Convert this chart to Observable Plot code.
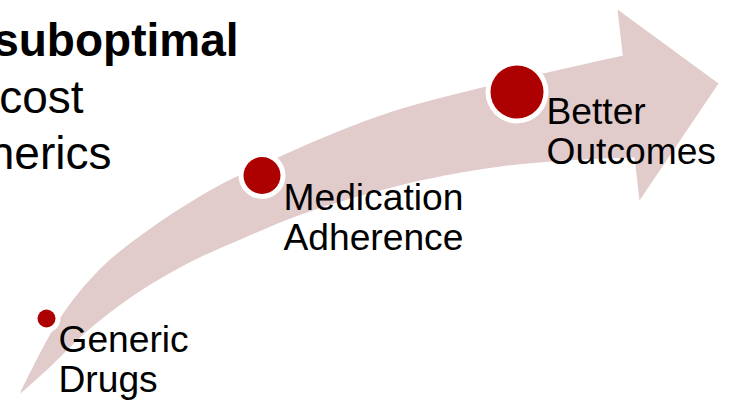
<!DOCTYPE html>
<html>
<head>
<meta charset="utf-8">
<script src="https://cdn.jsdelivr.net/npm/d3@7"></script>
<script src="https://cdn.jsdelivr.net/npm/@observablehq/plot@0.6"></script>
<style>
  html, body { margin: 0; padding: 0; background: #fff; }
  svg { display: block; }
</style>
</head>
<body>
<div id="chart"></div>
<script>
// Arrow band edges (in slide coordinates)
const upperEdgeX = [20, 58, 100, 150, 213, 273, 323, 380, 430, 490, 560, 623, 652];
const upperEdgeY = [392, 320, 268, 228, 188, 159, 137, 115, 100, 85, 69, 55, 49];
const lowerEdgeX = [20, 50, 85, 130, 187, 240, 290, 337, 403, 450, 500, 565, 634, 652];
const lowerEdgeY = [393, 366, 332, 297, 263, 239, 218, 202, 184, 174, 166, 160, 157, 157];
const headX = [617, 718, 639];
const headY = [9, 83, 200];

// Stages along the arrow
const stageLabels = ["Generic\nDrugs", "Medication\nAdherence", "Better\nOutcomes"];
const stageX = [46, 261.5, 516.5];
const stageY = [318, 175, 91.5];
const stageRadius = [9, 18.5, 26.5];
const labelX = [58, 283, 546];
const labelBaseline = [350, 208, 122];

// Heading fragments (cut off at the left edge)
const headingLines = ["suboptimal", "cost", "nerics"];
const headingRight = [238, 83, 111];
const headingBaseline = [55, 112, 168];

const band = "#e1cbcb";
const red = "#ad0000";
const labelSize = 37.2;
const headingSize = 46;

const shaft = [
  ...upperEdgeX.map((x, i) => ({x, y: upperEdgeY[i]})),
  ...lowerEdgeX.map((x, i) => ({x, y: lowerEdgeY[i]})).reverse()
];
const head = headX.map((x, i) => ({x, y: headY[i]}));
head.push(head[0]);
const stages = stageLabels.map((label, i) => ({
  label, x: stageX[i], y: stageY[i], r: stageRadius[i],
  lx: labelX[i], ly: labelBaseline[i] - 0.71 * labelSize
}));
const heading = headingLines.map((t, i) => ({
  t, x: headingRight[i], y: headingBaseline[i] - 0.71 * headingSize, bold: i === 0
}));

const chart = Plot.plot({
  width: 730,
  height: 400,
  margin: 0,
  style: {fontFamily: "'Liberation Sans', Arial, sans-serif", background: "#fff"},
  x: {axis: null, domain: [0, 730], range: [0, 730]},
  y: {axis: null, domain: [0, 400], range: [0, 400]},
  r: {type: "identity"},
  marks: [
    Plot.line(shaft, {x: "x", y: "y", curve: "catmull-rom", fill: band, stroke: "none"}),
    Plot.line(head, {x: "x", y: "y", curve: "linear", fill: band, stroke: "none"}),
    Plot.dot(stages, {x: "x", y: "y", r: d => d.r + 5, fill: "white", stroke: "none"}),
    Plot.dot(stages, {x: "x", y: "y", r: "r", fill: red, stroke: "none"}),
    Plot.text(stages, {x: "lx", y: "ly", text: "label", textAnchor: "start", lineAnchor: "top",
      lineHeight: 1.06, fontSize: labelSize, fill: "black"}),
    Plot.text(heading.filter(d => d.bold), {x: "x", y: "y", text: "t", textAnchor: "end", lineAnchor: "top",
      fontSize: headingSize, fontWeight: "bold", fill: "black"}),
    Plot.text(heading.filter(d => !d.bold), {x: "x", y: "y", text: "t", textAnchor: "end", lineAnchor: "top",
      fontSize: headingSize, fill: "black"})
  ]
});
document.getElementById("chart").appendChild(chart);
</script>
</body>
</html>
